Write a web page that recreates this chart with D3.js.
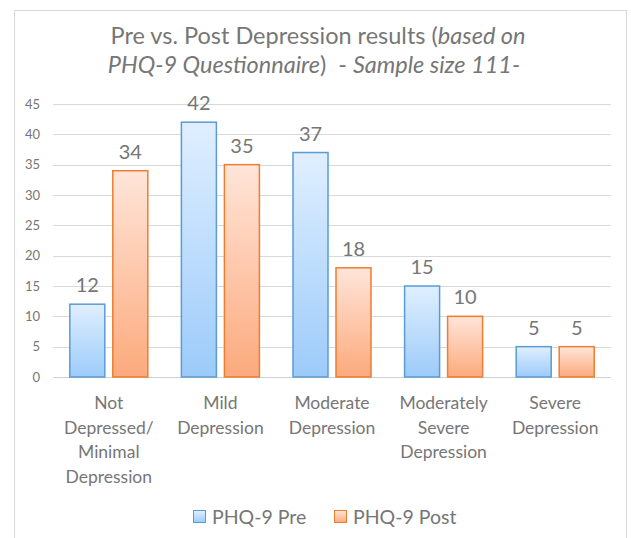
<!DOCTYPE html>
<html>
<head>
<meta charset="utf-8">
<script src="https://cdn.jsdelivr.net/npm/d3@7"></script>
<style>
  body { margin: 0; background: #fff; }
  text { font-family: Lato, "Open Sans", sans-serif; fill: #767676; }
</style>
</head>
<body>
<div id="chart"></div>
<script>
// chart data
const categories = [
  ["Not", "Depressed/", "Minimal", "Depression"],
  ["Mild", "Depression"],
  ["Moderate", "Depression"],
  ["Moderately", "Severe", "Depression"],
  ["Severe", "Depression"]
];
const pre_values = [12, 42, 37, 15, 5];
const post_values = [34, 35, 18, 10, 5];
const series_names = ["PHQ-9 Pre", "PHQ-9 Post"];
const y_ticks = [0, 5, 10, 15, 20, 25, 30, 35, 40, 45];

let width = 631;
let height = 538;
let plot = { left: 53, right: 611, top: 104, bottom: 377 };

let svg = d3.select("#chart").append("svg")
    .attr("width", width)
    .attr("height", height);

// gradients, one per series (objectBoundingBox so each bar gets its own)
let defs = svg.append("defs");
let grads = [
  { id: "gPre", top: "#e0efff", bottom: "#9ccbfa" },
  { id: "gPost", top: "#ffe5d9", bottom: "#fcaa7c" }
];
grads.forEach(g => {
  let lg = defs.append("linearGradient").attr("id", g.id)
      .attr("x1", 0).attr("y1", 0).attr("x2", 0).attr("y2", 1);
  lg.append("stop").attr("offset", "0%").attr("stop-color", g.top);
  lg.append("stop").attr("offset", "100%").attr("stop-color", g.bottom);
});
const strokes = ["#5b9bd5", "#ed7d31"];

// chart border (bottom edge falls outside the window)
svg.append("rect")
    .attr("x", 14.5).attr("y", 10.5)
    .attr("width", 612).attr("height", 540)
    .attr("fill", "none").attr("stroke", "#d9d9d9");

let x = d3.scaleBand()
    .domain(d3.range(categories.length))
    .range([plot.left, plot.right]);

let y = d3.scaleLinear()
    .domain([0, 45])
    .range([plot.bottom, plot.top]);

// gridlines
svg.append("g").selectAll("line")
    .data(y_ticks)
    .enter().append("line")
    .attr("x1", plot.left).attr("x2", plot.right)
    .attr("y1", d => Math.round(y(d)) + 0.5)
    .attr("y2", d => Math.round(y(d)) + 0.5)
    .attr("stroke", d => d === 0 ? "#d0d0d0" : "#d9d9d9")
    .attr("stroke-width", 1);

// y axis labels
let yAxis = d3.axisLeft(y).tickValues(y_ticks).tickSize(0).tickPadding(0);
let yg = svg.append("g")
    .attr("transform", "translate(40,0)")
    .call(yAxis);
yg.select(".domain").remove();
yg.selectAll("text")
    .style("font-size", "13px")
    .style("fill", "#767676")
    .style("font-family", "Lato, sans-serif");

// bars
let barW = 35, gap = 8;
let series = [pre_values, post_values];
series.forEach((vals, s) => {
  let offset = s === 0 ? -(gap / 2 + barW) : gap / 2;
  let g = svg.append("g");
  g.selectAll("rect")
      .data(vals)
      .enter().append("rect")
      .attr("x", (d, i) => x(i) + x.bandwidth() / 2 + offset)
      .attr("y", d => y(d))
      .attr("width", barW)
      .attr("height", d => y(0) - y(d))
      .attr("fill", "url(#" + grads[s].id + ")")
      .attr("stroke", strokes[s])
      .attr("stroke-width", 1.5);
  g.selectAll("text")
      .data(vals)
      .enter().append("text")
      .attr("x", (d, i) => x(i) + x.bandwidth() / 2 + offset + barW / 2)
      .attr("y", d => y(d) - 12)
      .attr("text-anchor", "middle")
      .style("font-size", "20px")
      .text(d => d);
});

// category labels
let cat = svg.append("g").selectAll("text")
    .data(categories)
    .enter().append("text")
    .attr("text-anchor", "middle")
    .style("font-size", "17.5px")
    .attr("x", (d, i) => x(i) + x.bandwidth() / 2)
    .attr("y", 409);
cat.selectAll("tspan")
    .data(d => d)
    .enter().append("tspan")
    .attr("x", function () { return d3.select(this.parentNode).attr("x"); })
    .attr("dy", (d, j) => j === 0 ? 0 : 24.5)
    .text(d => d);

// title
let title = svg.append("g").attr("text-anchor", "middle").style("font-size", "23.5px")
    .attr("xml:space", "preserve");
let t1 = title.append("text").attr("x", 318).attr("y", 44);
t1.append("tspan").text("Pre vs. Post Depression results (");
t1.append("tspan").style("font-style", "italic").text("based on");
let t2 = title.append("text").attr("x", 314).attr("y", 73).style("white-space", "pre");
t2.append("tspan").style("font-style", "italic").text("PHQ-9 Questionnaire");
t2.append("tspan").text(")\u00a0 - ");
t2.append("tspan").style("font-style", "italic").text("Sample size 111-");

// legend
let legend = svg.append("g");
let legendX = [193, 334];
series_names.forEach((name, s) => {
  legend.append("rect")
      .attr("x", legendX[s] + 0.5).attr("y", 510.5)
      .attr("width", 12).attr("height", 12)
      .attr("fill", "url(#" + grads[s].id + ")")
      .attr("stroke", strokes[s]);
  legend.append("text")
      .attr("x", legendX[s] + 19).attr("y", 524)
      .style("font-size", "19.5px")
      .text(name);
});
</script>
</body>
</html>
